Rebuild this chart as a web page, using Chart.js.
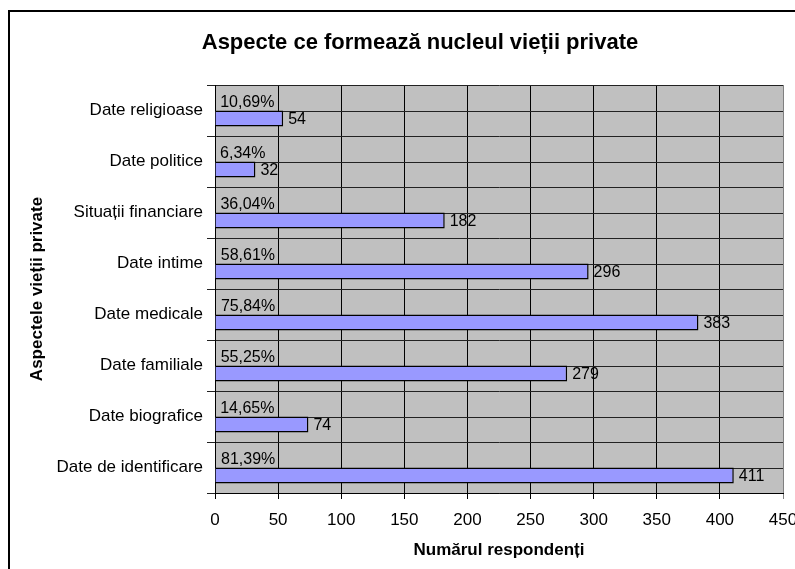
<!DOCTYPE html>
<html>
<head>
<meta charset="utf-8">
<script src="https://cdn.jsdelivr.net/npm/chart.js"></script>
<style>
  body { margin: 0; background: #fff; }
</style>
</head>
<body>
<canvas id="barChart" width="795" height="569"></canvas>
<script>
const categories = ['Date religioase', 'Date politice', 'Situații financiare', 'Date intime',
  'Date medicale', 'Date familiale', 'Date biografice', 'Date de identificare'];
const respondents = [54, 32, 182, 296, 383, 279, 74, 411];
const percentages = [10.69, 6.34, 36.04, 58.61, 75.84, 55.25, 14.65, 81.39];
const xMin = 0, xMax = 450, xStep = 50;

Chart.defaults.font.family = 'Arial, "Liberation Sans", sans-serif';
Chart.defaults.color = '#000';

// fondul gri al zonei de desenare si chenarul exterior
const frame = {
  id: 'frame',
  beforeDraw(chart) {
    const { ctx, chartArea: a } = chart;
    ctx.save();
    ctx.fillStyle = '#fff';
    ctx.fillRect(0, 0, chart.width, chart.height);
    ctx.fillStyle = '#C0C0C0';
    ctx.fillRect(a.left, a.top, a.right - a.left, a.bottom - a.top);
    ctx.restore();
  },
  afterDraw(chart) {
    const ctx = chart.ctx;
    ctx.save();
    ctx.strokeStyle = '#000';
    ctx.lineWidth = 2;
    ctx.strokeRect(9, 11, 900, 900);
    ctx.fillStyle = '#000';
    ctx.font = 'bold 22px Arial, "Liberation Sans", sans-serif';
    ctx.textAlign = 'center';
    ctx.textBaseline = 'middle';
    ctx.fillText('Aspecte ce formează nucleul vieții private', 420, 43);
    ctx.restore();
  }
};

// linii orizontale si prin mijlocul fiecarei categorii
const midLines = {
  id: 'midLines',
  beforeDatasetsDraw(chart) {
    const { ctx, chartArea: a, scales } = chart;
    ctx.save();
    ctx.strokeStyle = '#222';
    ctx.lineWidth = 1;
    categories.forEach((c, i) => {
      const y = Math.round(scales.y.getPixelForValue(i)) + 0.5;
      ctx.beginPath();
      ctx.moveTo(a.left, y);
      ctx.lineTo(a.right, y);
      ctx.stroke();
    });
    ctx.restore();
  }
};

// etichetele: procentul si numarul de respondenti
const valueLabels = {
  id: 'valueLabels',
  afterDatasetsDraw(chart) {
    const ctx = chart.ctx;
    ctx.save();
    ctx.fillStyle = '#000';
    ctx.font = '16px Arial, "Liberation Sans", sans-serif';
    ctx.textAlign = 'left';
    ctx.textBaseline = 'middle';
    chart.getDatasetMeta(0).data.forEach((bar, i) => {
      ctx.fillText(percentages[i].toFixed(2).replace('.', ',') + '%', bar.x + 5, bar.y);
    });
    chart.getDatasetMeta(1).data.forEach((bar, i) => {
      ctx.fillText(String(respondents[i]), bar.x + 5, bar.y + 1);
    });
    ctx.restore();
  }
};

const ctx = document.getElementById('barChart').getContext('2d');
new Chart(ctx, {
  type: 'bar',
  data: {
    labels: categories,
    datasets: [{
      label: 'Procent',
      data: percentages.map(p => p / 100),
      backgroundColor: 'rgba(0,0,0,0)',
      borderWidth: 0
    }, {
      label: 'Respondenți',
      data: respondents,
      backgroundColor: '#9999FF',
      borderColor: '#000',
      borderWidth: 1.5
    }]
  },
  options: {
    indexAxis: 'y',
    responsive: false,
    animation: false,
    categoryPercentage: 0.63,
    barPercentage: 1,
    layout: { padding: { top: 85, right: 12, left: 0, bottom: 0 } },
    plugins: {
      legend: { display: false },
      title: { display: false },
      tooltip: { enabled: false }
    },
    scales: {
      x: {
        min: xMin,
        max: xMax,
        ticks: { stepSize: xStep, font: { size: 17 }, padding: 11, maxRotation: 0 },
        grid: {
          color: c => (c.tick && c.tick.value === xMax ? '#808080' : '#000'),
          tickLength: 6
        },
        border: { color: '#000' },
        title: {
          display: true,
          text: 'Numărul respondenți',
          font: { size: 17, weight: 'bold' },
          padding: { top: 0, bottom: 8 }
        },
        afterFit: s => { s.height = 76; s.paddingLeft = 0; s.paddingRight = 0; }
      },
      y: {
        grid: { color: '#222', tickLength: 8 },
        ticks: { font: { size: 17 }, padding: 4 },
        border: { color: '#000' },
        title: {
          display: true,
          text: 'Aspectele vieții private',
          font: { size: 17, weight: 'bold' },
          padding: { top: 27, bottom: 0 }
        },
        afterFit: s => { s.width = 215; s.paddingTop = 0; s.paddingBottom = 0; }
      }
    }
  },
  plugins: [frame, midLines, valueLabels]
});
</script>
</body>
</html>
